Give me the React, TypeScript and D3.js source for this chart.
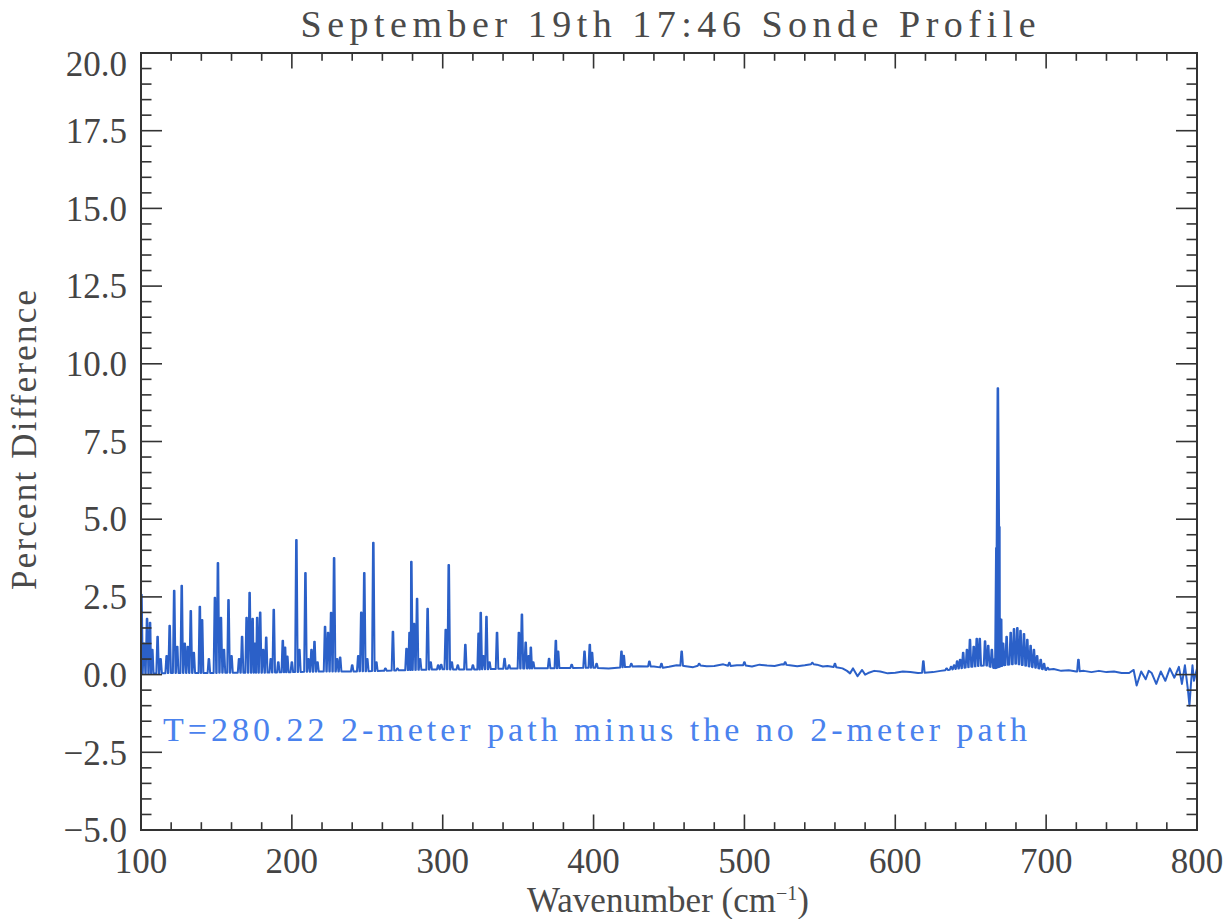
import React from 'react';
import * as d3 from 'd3';

// Baseline of the difference spectrum (wavenumber, percent)
const BASE_WN = [100, 110, 120, 140, 160, 180, 200, 220, 240, 260, 280, 300, 320, 340, 360, 380, 400, 410, 420, 430, 440, 446, 450, 455, 460, 466, 470, 475, 480, 486, 490, 495, 500, 505, 510, 515, 520, 525, 530, 535, 540, 545, 548, 552, 555, 560, 565, 568, 570, 572, 575, 578, 580, 582, 586, 590, 595, 600, 605, 610, 615, 625, 630, 635, 640, 650, 660, 666, 672, 680, 690, 700, 705, 710, 715, 720, 725, 730, 735, 740, 745, 750, 755, 758, 760, 763, 766, 768, 770, 773, 776, 779, 782, 785, 788, 790, 792, 794, 795, 796, 797, 798, 800];
const BASE_V = [0.03, 0.04, 0.05, 0.05, 0.06, 0.06, 0.08, 0.1, 0.1, 0.12, 0.15, 0.17, 0.16, 0.19, 0.2, 0.21, 0.22, 0.2, 0.24, 0.27, 0.26, 0.22, 0.25, 0.3, 0.28, 0.24, 0.3, 0.27, 0.28, 0.33, 0.27, 0.3, 0.3, 0.26, 0.32, 0.29, 0.28, 0.33, 0.3, 0.27, 0.3, 0.34, 0.32, 0.26, 0.28, 0.24, 0.2, 0.12, 0.04, 0.2, -0.05, 0.15, 0.0, 0.05, 0.12, 0.1, 0.04, 0.06, 0.1, 0.08, 0.05, 0.08, 0.12, 0.15, 0.18, 0.25, 0.3, 0.2, 0.3, 0.35, 0.25, 0.15, 0.18, 0.12, 0.14, 0.1, 0.12, 0.08, 0.12, 0.08, 0.1, 0.05, 0.05, 0.15, -0.35, 0.1, -0.15, 0.12, 0.05, -0.3, 0.1, -0.2, 0.2, -0.1, 0.25, -0.3, 0.3, -0.5, -1.0, -0.3, 0.3, -0.2, 0.2];

// Spectral line peaks (wavenumber, peak percent difference)
const PEAK_WN = [100.3, 102, 104, 106, 107.5, 111, 113, 117, 119, 122, 124, 127, 129, 131, 133, 135, 139, 140.5, 145, 149, 151, 153, 155, 158, 160, 165, 167, 170, 172, 174, 175.5, 177, 179, 181, 183, 186, 188, 191, 194, 195.5, 197, 200, 203, 205, 209, 211, 213, 215, 217, 222, 224, 226, 228, 230, 232, 240, 244, 246, 248, 250, 254, 256, 262, 267, 270, 276, 278, 279.2, 281, 283, 285, 290, 292, 297, 299, 302, 304, 306, 310, 315, 320, 323.8, 325.2, 327, 329, 331, 336, 341, 344, 350.5, 352.5, 355, 357, 358.4, 360, 370.5, 375, 376.5, 385.5, 394, 397.5, 399, 402, 418.5, 420, 425, 437, 445, 458.4, 470, 490, 500, 527, 545, 560, 618.6, 634, 637, 639, 641, 643, 645, 647.5, 649.5, 652, 654, 656, 659.5, 661.6, 664, 666, 667.0, 668.0, 669.0, 670.2, 671.5, 673.8, 676.5, 678.7, 680.9, 683, 685.3, 687.5, 689.7, 691.9, 694, 696.4, 698.6, 701, 721.4];
const PEAK_V = [2.57, 1.0, 1.8, 1.67, 0.8, 1.22, 0.5, 0.6, 1.57, 2.7, 0.9, 2.86, 1.0, 0.9, 2.05, 0.7, 2.18, 1.76, 0.5, 2.47, 3.59, 1.83, 0.8, 2.4, 0.6, 0.5, 1.22, 1.83, 2.63, 1.8, 1.0, 1.83, 2.0, 0.8, 1.19, 0.5, 2.09, 0.4, 1.09, 0.87, 0.58, 0.4, 4.33, 0.8, 3.27, 0.5, 0.8, 1.06, 0.4, 1.54, 1.35, 1.99, 3.75, 0.5, 0.55, 0.3, 0.6, 2.0, 3.27, 0.5, 4.24, 0.4, 0.2, 1.38, 0.2, 0.83, 1.35, 3.63, 1.64, 2.44, 0.5, 2.12, 0.4, 0.3, 0.32, 1.44, 3.53, 0.4, 0.3, 0.96, 0.3, 1.32, 1.99, 0.6, 1.86, 0.4, 1.35, 0.51, 0.3, 1.35, 1.93, 1.03, 0.6, 0.87, 0.4, 0.51, 1.09, 0.74, 0.32, 0.74, 0.96, 0.7, 0.35, 0.74, 0.61, 0.35, 0.42, 0.35, 0.74, 0.35, 0.38, 0.4, 0.4, 0.38, 0.35, 0.43, 0.2, 0.25, 0.3, 0.43, 0.48, 0.7, 0.8, 1.12, 0.9, 1.15, 1.15, 1.07, 0.93, 0.8, 0.5, 4.07, 9.21, 4.75, 1.77, 1.0, 1.22, 1.35, 1.47, 1.5, 1.41, 1.31, 1.12, 0.93, 0.8, 0.6, 0.48, 0.35, 0.22, 0.48];

const X_TICKS = [100, 200, 300, 400, 500, 600, 700, 800];
const Y_TICKS = [-5.0, -2.5, 0.0, 2.5, 5.0, 7.5, 10.0, 12.5, 15.0, 17.5, 20.0];

const TITLE = 'September 19th 17:46 Sonde Profile';
const X_TITLE = 'Wavenumber (cm';
const Y_TITLE = 'Percent Difference';
const NOTE = 'T=280.22 2-meter path minus the no 2-meter path';

export default function App() {
  const W = 1232, H = 919;
  const L = 141, R = 1197, T = 53, B = 830;
  const x = d3.scaleLinear().domain([100, 800]).range([L, R]);
  const y = d3.scaleLinear().domain([-5, 20]).range([B, T]);
  const baseAt = d3.scaleLinear().domain(BASE_WN).range(BASE_V);

  const hw = 0.85, tw = 0.2;
  const inPeak = (w: number) => PEAK_WN.some(p => Math.abs(p - w) <= hw);
  const pts: [number, number][] = [];
  BASE_WN.forEach((w, i) => { if (!inPeak(w)) pts.push([w, BASE_V[i]]); });
  PEAK_WN.forEach((w, i) => {
    const h = PEAK_V[i];
    pts.push([w - hw, baseAt(w - hw)], [w - tw, h], [w + tw, h], [w + hw, baseAt(w + hw)]);
  });
  pts.sort((a, b) => a[0] - b[0]);
  const line = d3.line<[number, number]>().x(d => x(d[0])).y(d => y(d[1]));
  const path = line(pts.filter(p => p[0] >= 100 && p[0] <= 800)) || '';

  const xMinor = d3.range(100, 801, 20);
  const yMinor = d3.range(-5, 20.01, 0.5);
  const fmt = d3.format('.1f');
  const axisColor = '#333';
  const xMaj = 15.5, xMin = 7.8, yMaj = 21, yMin = 10.5;
  const font = '"Liberation Serif", "DejaVu Serif", serif';

  return (
    <svg width={W} height={H} style={{ position: 'absolute', left: 0, top: 0, background: '#fff' }} fontFamily={font}>
      <rect x={0} y={0} width={W} height={H} fill="#fff" />
      <defs>
        <clipPath id="plot">
          <rect x={L} y={T} width={R - L} height={B - T} />
        </clipPath>
      </defs>
      <text x={668} y={37} fontSize={38} fill="#4a4a4a" textAnchor="middle" textLength={735} lengthAdjust="spacing">{TITLE}</text>

      <path d={path} fill="none" stroke="#2b60c8" strokeWidth={2} strokeLinejoin="round" clipPath="url(#plot)" />

      <rect x={L} y={T} width={R - L} height={B - T} fill="none" stroke={axisColor} strokeWidth={2} />
      {xMinor.map(v => {
        const major = Math.abs((v - 100) % 100) < 1e-6;
        const len = major ? xMaj : xMin;
        return (
          <g key={'x' + v}>
            <line x1={x(v)} x2={x(v)} y1={B} y2={B - len} stroke={axisColor} strokeWidth={1.6} />
            <line x1={x(v)} x2={x(v)} y1={T} y2={T + len} stroke={axisColor} strokeWidth={1.6} />
          </g>
        );
      })}
      {yMinor.map(v => {
        const major = Math.abs(((v + 5) / 2.5) - Math.round((v + 5) / 2.5)) < 1e-6;
        const len = major ? yMaj : yMin;
        return (
          <g key={'y' + v}>
            <line x1={L} x2={L + len} y1={y(v)} y2={y(v)} stroke={axisColor} strokeWidth={1.6} />
            <line x1={R} x2={R - len} y1={y(v)} y2={y(v)} stroke={axisColor} strokeWidth={1.6} />
          </g>
        );
      })}
      {X_TICKS.map(v => (
        <text key={'xl' + v} x={x(v)} y={873} fontSize={35} fill="#444" textAnchor="middle">{v}</text>
      ))}
      {Y_TICKS.map(v => (
        <text key={'yl' + v} x={127} y={y(v) + (v === 20 ? 11 : 0)} dy="0.35em" fontSize={35} fill="#444" textAnchor="end">{fmt(v)}</text>
      ))}
      <text x={668} y={912} fontSize={35} fill="#4a4a4a" textAnchor="middle">
        {X_TITLE}<tspan dy={-12} fontSize={20}>−1</tspan><tspan dy={12}>)</tspan>
      </text>
      <text transform={`translate(36,440) rotate(-90)`} fontSize={35} fill="#4a4a4a" textAnchor="middle" textLength={300} lengthAdjust="spacing">{Y_TITLE}</text>
      <text x={163} y={741} fontSize={34} fill="#4a82ee" textLength={864} lengthAdjust="spacing">{NOTE}</text>
    </svg>
  );
}
